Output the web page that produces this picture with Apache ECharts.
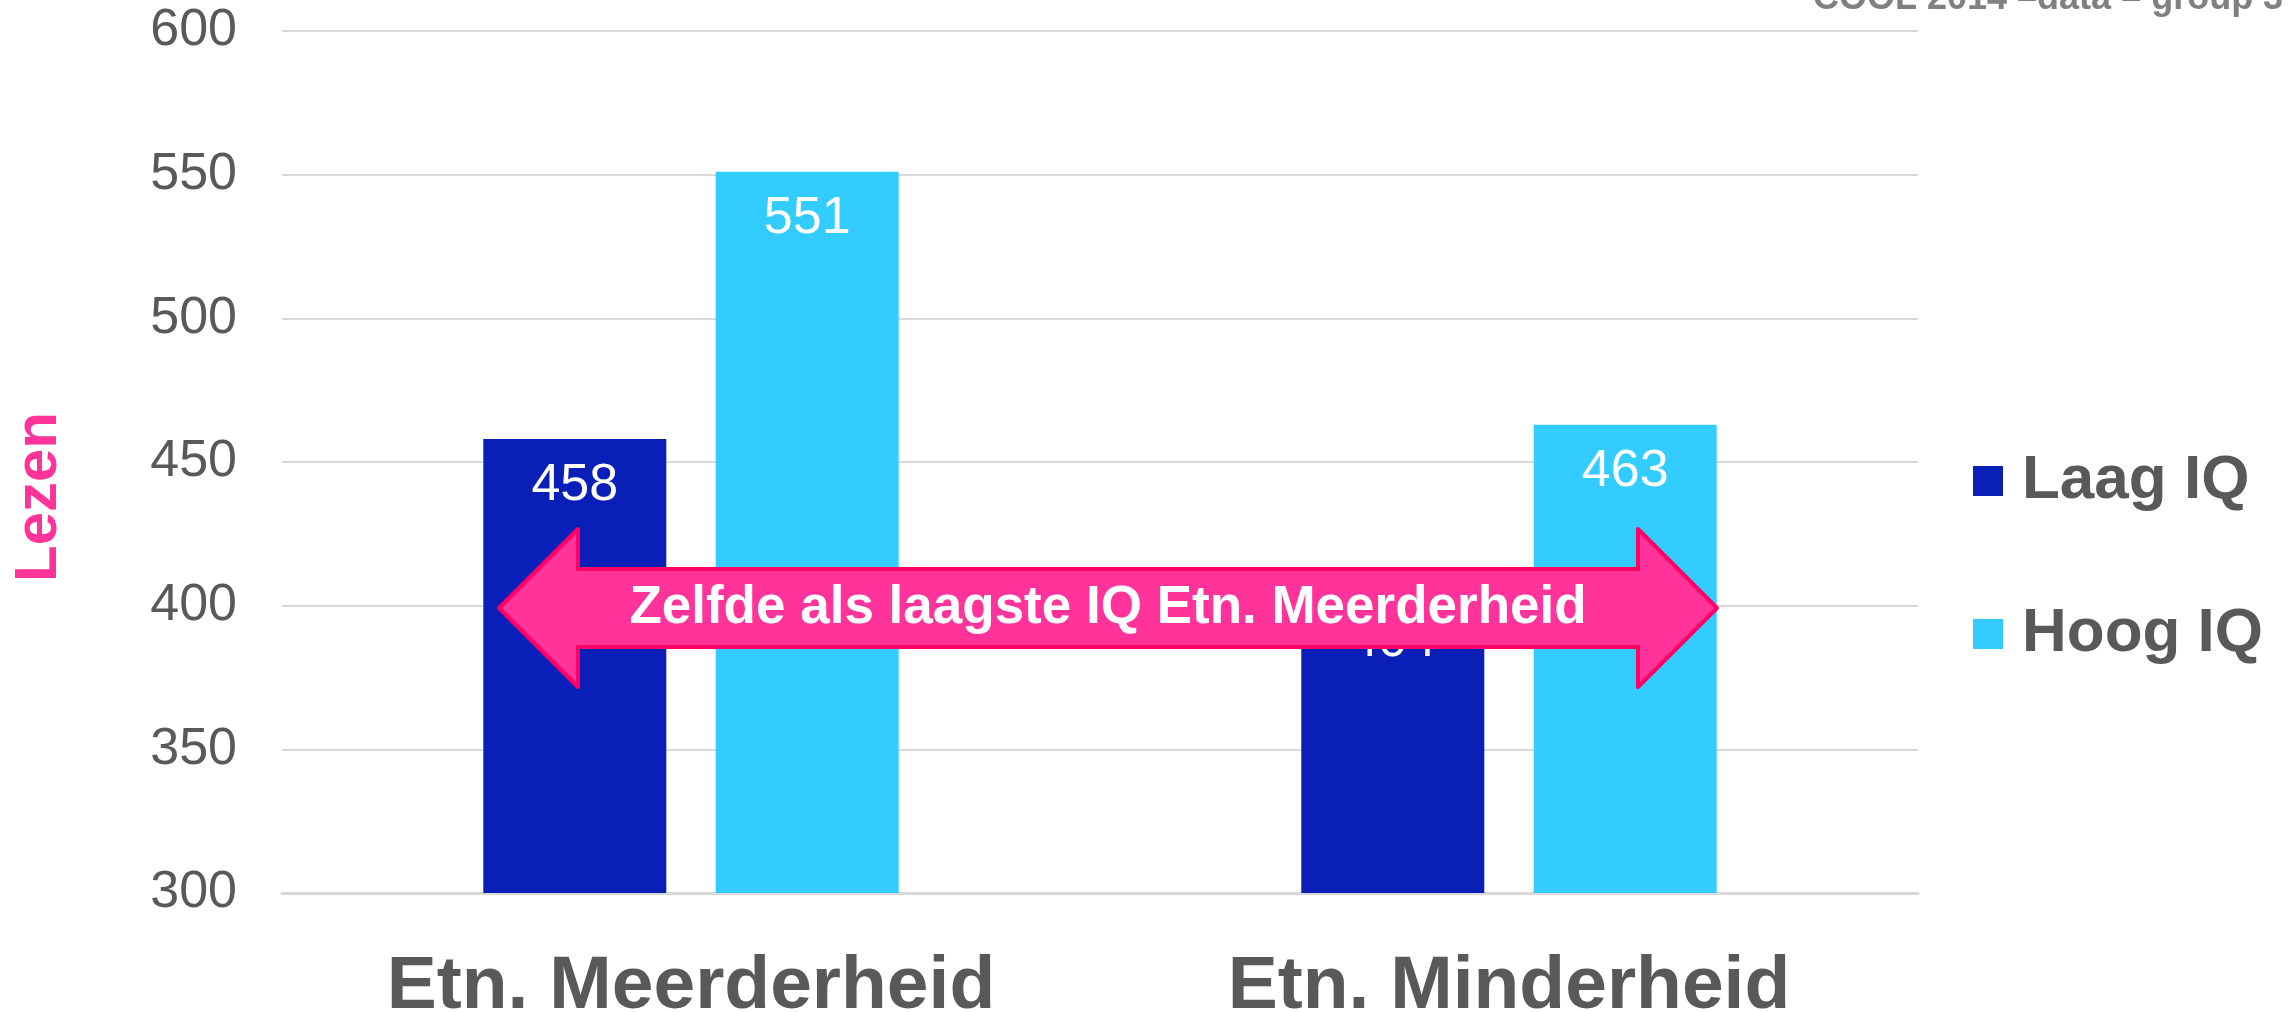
<!DOCTYPE html>
<html>
<head>
<meta charset="utf-8">
<script src="https://cdn.jsdelivr.net/npm/echarts@6/dist/echarts.min.js"></script>
<style>
  html, body { margin: 0; padding: 0; background: #fff; }
  #chart { width: 2292px; height: 1012px; }
</style>
</head>
<body>
<div id="chart"></div>
<script>
// data
const categories = ['Etn. Meerderheid', 'Etn. Minderheid']
const seriesNames = ['Laag IQ', 'Hoog IQ']
const laagIQ = [458, 404]
const hoogIQ = [551, 463]
const yTicks = [300, 350, 400, 450, 500, 550, 600]

const FONT = '"Liberation Sans", Arial, sans-serif'
const GREY = '#595959'
const PINK = '#FF3399'

const chart = echarts.init(document.getElementById('chart'))

const barLabel = {
  show: true,
  position: 'insideTop',
  distance: 21,
  color: '#fff',
  fontSize: 52,
  fontFamily: FONT
}

chart.setOption({
  animation: false,
  textStyle: { fontFamily: FONT },
  grid: { left: 282, right: 374, top: 31, bottom: 119, outerBoundsMode: 'none' },
  legend: {
    orient: 'vertical',
    left: 1973,
    top: 450,
    padding: 0,
    itemWidth: 30,
    itemHeight: 30,
    itemGap: 91,
    icon: 'rect',
    data: seriesNames,
    textStyle: {
      color: GREY,
      fontSize: 62,
      fontWeight: 'bold',
      lineHeight: 62,
      padding: [0, 0, 0, 14]
    }
  },
  xAxis: {
    type: 'category',
    data: categories,
    axisLine: { lineStyle: { color: '#D9D9D9', width: 3 } },
    axisTick: { show: false },
    axisLabel: {
      color: GREY,
      fontSize: 75,
      fontWeight: 'bold',
      margin: 57
    }
  },
  yAxis: {
    type: 'value',
    min: yTicks[0],
    max: yTicks[yTicks.length - 1],
    interval: 50,
    axisLine: { show: false },
    axisTick: { show: false },
    axisLabel: { color: GREY, fontSize: 52, margin: 45 },
    splitLine: { lineStyle: { color: '#D9D9D9', width: 2 } }
  },
  series: [{
    name: seriesNames[0],
    type: 'bar',
    data: laagIQ,
    barWidth: 183,
    barGap: '27%',
    itemStyle: { color: '#0A1EB8' },
    label: barLabel
  }, {
    name: seriesNames[1],
    type: 'bar',
    data: hoogIQ,
    barWidth: 183,
    barGap: '27%',
    itemStyle: { color: '#33CCFF' },
    label: barLabel
  }],
  graphic: [
    {
      type: 'text',
      left: 1813,
      top: -19,
      style: {
        text: 'COOL 2014 \u2013data \u2013 group 3',
        fill: '#808080',
        font: 'bold 36px ' + FONT
      }
    },
    {
      type: 'text',
      x: 39,
      y: 497,
      rotation: Math.PI / 2,
      style: {
        text: 'Lezen',
        fill: PINK,
        font: 'bold 60px ' + FONT,
        align: 'center',
        verticalAlign: 'middle'
      }
    },
    {
      // double headed annotation arrow
      type: 'polygon',
      z: 100,
      shape: {
        points: [
          [499, 608], [578, 529], [578, 569], [1638, 569], [1638, 529],
          [1717, 608], [1638, 687], [1638, 647], [578, 647], [578, 687]
        ]
      },
      style: { fill: PINK, stroke: '#FF0066', lineWidth: 4, lineJoin: 'round' }
    },
    {
      type: 'text',
      z: 101,
      x: 1108,
      y: 608,
      style: {
        text: 'Zelfde als laagste IQ Etn. Meerderheid',
        fill: '#fff',
        font: 'bold 53px ' + FONT,
        align: 'center',
        verticalAlign: 'middle'
      }
    }
  ]
})
</script>
</body>
</html>
